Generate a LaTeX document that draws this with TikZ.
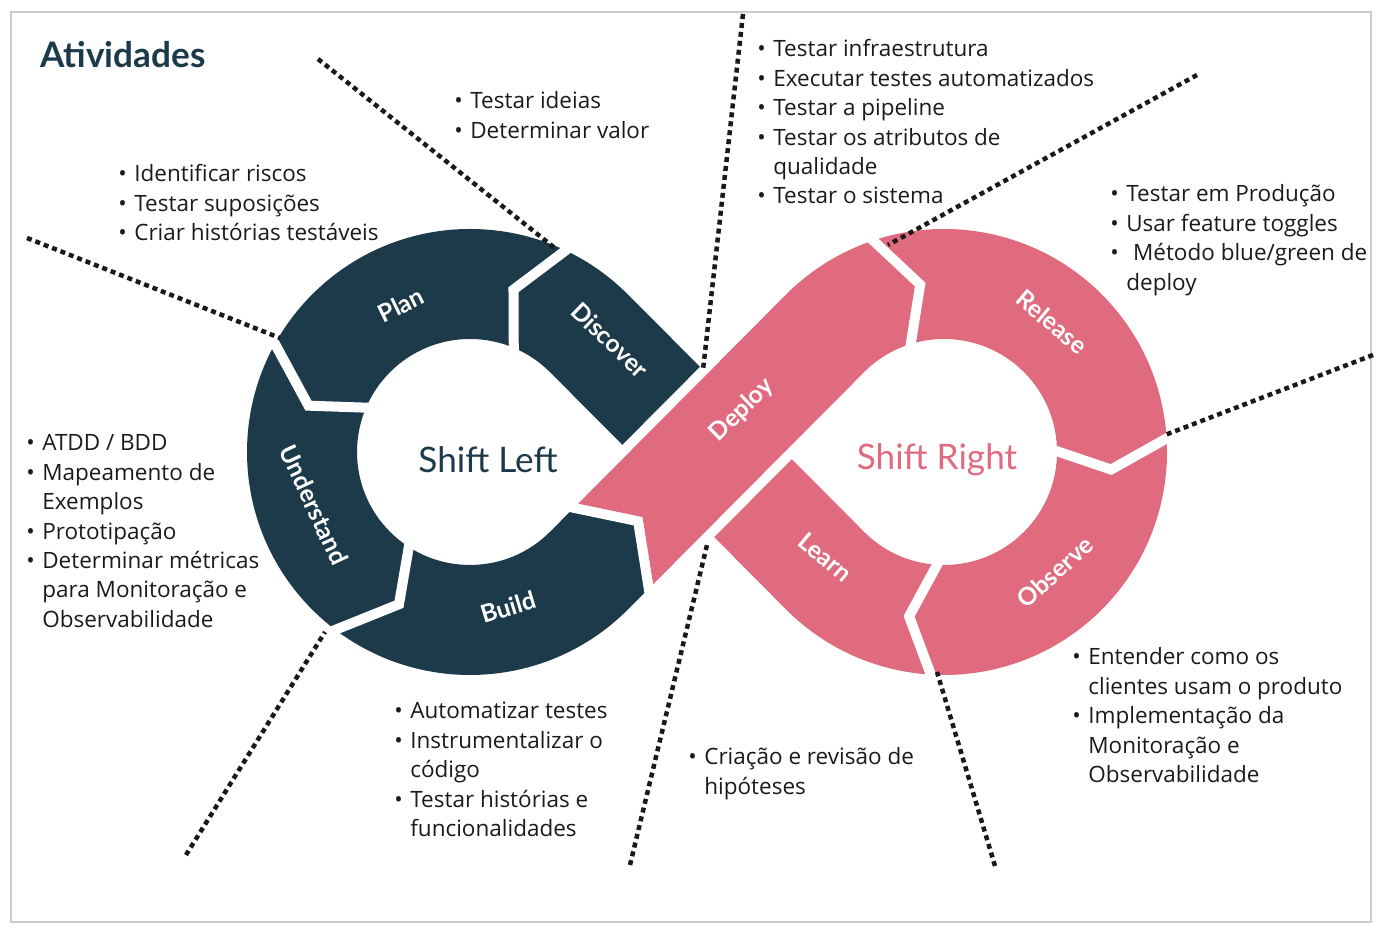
\documentclass[tikz,border=0pt]{standalone}
\usepackage{fontspec}
\setmainfont{Lato}
\newfontfamily\bodyfamily{Open Sans}
\usetikzlibrary{calc}
\definecolor{darkring}{HTML}{1D3A4B}
\definecolor{pinkring}{HTML}{E06B7F}
\definecolor{textcol}{HTML}{1A1A1A}
\definecolor{framecol}{HTML}{CFC8CB}
\newcommand{\bodyfont}{\bodyfamily\fontsize{12.8}{16.7}\selectfont}
\newcommand{\bl}{\textbullet}
\newcommand{\blist}[1]{\begin{tabular}[t]{@{}p{0.32cm}@{}l@{}}#1\end{tabular}}
\tikzset{
  % white cut between two segments
  gapline/.style={white, line width=0.2cm, line join=miter},
  % black dotted divider
  divider/.style={black!90, line width=0.09cm, dash pattern=on 0.1cm off 0.08cm},
  % white label on a segment
  seglabel/.style={text=white, font=\bfseries\fontsize{14}{14}\selectfont, inner sep=0pt},
  % text in the middle of a ring
  centerlabel/.style={font=\fontsize{20}{20}\selectfont, inner sep=0pt},
  % list of activities
  bullets/.style={anchor=base west, inner sep=0pt, text=textcol, font=\bodyfont},
}

\begin{document}
\begin{tikzpicture}[x=0.02cm, y=0.02cm]
  \useasboundingbox (0,0) rectangle (1386,935);
  \draw[framecol, line width=0.03cm] (11,13) rectangle (1371,923);

  % ring centres and tangent points of the crossing bands
  \coordinate (cL) at (470,483);
  \coordinate (cR) at (944,483);
  \coordinate (LAo) at ($(cL)+(45:223)$);
  \coordinate (LAi) at ($(cL)+(45:113)$);
  \coordinate (LBo) at ($(cL)+(-45:223)$);
  \coordinate (LBi) at ($(cL)+(-45:113)$);
  \coordinate (RAo) at ($(cR)+(225:113)$);
  \coordinate (RAi) at ($(cR)+(225:223)$);
  \coordinate (RBo) at ($(cR)+(135:113)$);
  \coordinate (RBi) at ($(cR)+(135:223)$);
  \coordinate (P1) at (intersection of LAo--RAo and LBo--RBo);
  \coordinate (P2) at (intersection of LAi--RAi and LBi--RBi);
  \coordinate (xtop) at (intersection of LAo--RAo and LBi--RBi);
  \coordinate (xbot) at (intersection of LAi--RAi and LBo--RBo);

  % left lobe
  \fill[darkring, even odd rule]
    (LAo) arc[start angle=45, end angle=315, radius=223] -- (xbot) -- (xtop) -- cycle
    (LAi) arc[start angle=45, end angle=315, radius=113] -- (P2) -- cycle;
  % right lobe
  \fill[pinkring, even odd rule]
    (RBi) arc[start angle=135, end angle=-135, radius=223] -- (xbot) -- (xtop) -- cycle
    (RBo) arc[start angle=135, end angle=-135, radius=113] -- (P1) -- cycle;

  % cuts between segments
  \foreach \ao/\at/\ai in {63/75/64, 149/164/154, 231/245/234}
    \draw[gapline] ($(cL)+(\ao:236)$) -- ($(cL)+(\at:168)$) -- ($(cL)+(\ai:100)$);
  \foreach \ao/\at/\ai in {5/-6/3, -92/-102/-90}
    \draw[gapline] ($(cR)+(\ao:236)$) -- ($(cR)+(\at:168)$) -- ($(cR)+(\ai:100)$);

  % deploy band on top
  \coordinate (dBi) at ($(cL)+(45:40)+(-45:113)$);
  \coordinate (dBc) at ($(cL)+(45:76)+(-45:168)$);
  \coordinate (dBo) at ($(cL)+(45:36)+(-45:223)$);
  \coordinate (dRc) at ($(cR)+(100:168)$);
  \coordinate (dRo) at ($(cR)+(110:223)$);
  \path[fill=pinkring, preaction={draw=white, fill=white, line width=0.4cm, line join=miter}]
    (dBi) -- (dBc) -- (dBo) -- (RBo) arc[start angle=135, end angle=110, radius=113]
    -- (dRc) -- (dRo) arc[start angle=110, end angle=135, radius=223] -- cycle;

  % segment names
  \node[seglabel, rotate=26]  (plan)       at (401,630) {Plan};
  \node[seglabel, rotate=-44] (discover)   at (610,595) {Discover};
  \node[seglabel, rotate=-65] (understand) at (314,430) {Understand};
  \node[seglabel, rotate=17]  (build)      at (508,328) {Build};
  \node[seglabel, rotate=44]  (deploy)     at (742,525) {Deploy};
  \node[seglabel, rotate=-40] (release)    at (1052,613) {Release};
  \node[seglabel, rotate=42]  (observe)    at (1055,363) {Observe};
  \node[seglabel, rotate=-40] (learn)      at (825,378) {Learn};

  \node[centerlabel, text=darkring] (shiftL) at (488,475) {Shift Left};
  \node[centerlabel, text=pinkring] (shiftR) at (937,475) {Shift Right};

  \node[anchor=west, inner sep=0pt, text=darkring,
        font=\bfseries\fontsize{20}{20}\selectfont] (title) at (40,880) {Atividades};

  % dotted dividers
  \coordinate (o1) at (318,876);  \coordinate (i1) at (556,686);
  \coordinate (o2) at (27,697);   \coordinate (i2) at (280,597);
  \coordinate (o3) at (186,80);   \coordinate (i3) at (325,303);
  \coordinate (o4) at (743,921);  \coordinate (i4) at (703,565);
  \coordinate (o5) at (630,70);   \coordinate (i5) at (707,390);
  \coordinate (o6) at (1197,860); \coordinate (i6) at (888,690);
  \coordinate (o7) at (1373,580); \coordinate (i7) at (1165,500);
  \coordinate (o8) at (995,69);   \coordinate (i8) at (937,263);
  \foreach \k in {1,...,8}
    \draw[divider] (o\k) -- (i\k);

  % activities
  \node[bullets] (tDiscover) at (454,826)
    {\blist{\bl & Testar ideias\\ \bl & Determinar valor}};
  \node[bullets] (tPlan) at (118,753)
    {\blist{\bl & Identificar riscos\\ \bl & Testar suposições\\ \bl & Criar histórias testáveis}};
  \node[bullets] (tDeploy) at (757,878)
    {\blist{\bl & Testar infraestrutura\\ \bl & Executar testes automatizados\\
      \bl & Testar a pipeline\\ \bl & Testar os atributos de\\ & qualidade\\ \bl & Testar o sistema}};
  \node[bullets] (tRelease) at (1110,733)
    {\blist{\bl & Testar em Produção\\ \bl & Usar feature toggles\\
      \bl & \hspace{0.3em}Método blue/green de\\ & deploy}};
  \node[bullets] (tUnderstand) at (26,484)
    {\blist{\bl & ATDD / BDD\\ \bl & Mapeamento de\\ & Exemplos\\ \bl & Prototipação\\
      \bl & Determinar métricas\\ & para Monitoração e\\ & Observabilidade}};
  \node[bullets] (tBuild) at (394,216)
    {\blist{\bl & Automatizar testes\\ \bl & Instrumentalizar o\\ & código\\
      \bl & Testar histórias e\\ & funcionalidades}};
  \node[bullets] (tLearn) at (688,170)
    {\blist{\bl & Criação e revisão de\\ & hipóteses}};
  \node[bullets] (tObserve) at (1072,270)
    {\blist{\bl & Entender como os\\ & clientes usam o produto\\ \bl & Implementação da\\
      & Monitoração e\\ & Observabilidade}};
\end{tikzpicture}
\end{document}
